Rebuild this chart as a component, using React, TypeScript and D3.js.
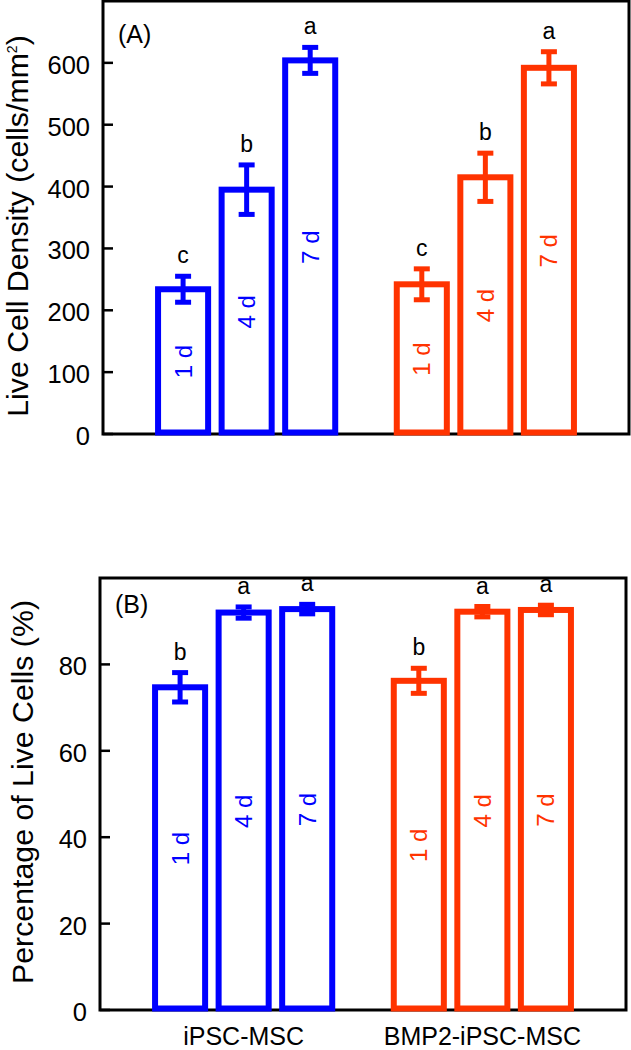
import React from "react";
import * as d3 from "d3";

const groups = ["iPSC-MSC", "BMP2-iPSC-MSC"];
const days = ["1 d", "4 d", "7 d"];
const groupColors = ["#0000ff", "#ff3300"];

const densityIPSC = [234, 395, 604];
const densityIPSCErr = [21, 40, 21];
const densityBMP2 = [242, 415, 592];
const densityBMP2Err = [25, 39, 26];
const densityLetters = ["c", "b", "a"];
const densityTicks = [0, 100, 200, 300, 400, 500, 600];

const liveIPSC = [74.7, 92.0, 92.8];
const liveIPSCErr = [3.4, 1.3, 1.1];
const liveBMP2 = [76.2, 92.2, 92.6];
const liveBMP2Err = [2.9, 1.2, 1.1];
const liveLetters = ["b", "a", "a"];
const liveTicks = [0, 20, 40, 60, 80];

const FONT = "Arial, 'Liberation Sans', Helvetica, sans-serif";

type PanelProps = {
  left: number;
  right: number;
  top: number;
  bottom: number;
  yMax: number;
  ticks: number[];
  values: number[][];
  errors: number[][];
  letters: string[];
  title: React.ReactNode;
  titleX: number;
  titleY: number;
  tag: string;
  tagY: number;
  showGroupLabels: boolean;
  groupLabelY?: number;
};

function Panel(p: PanelProps) {
  const y = d3.scaleLinear().domain([0, p.yMax]).range([p.bottom, p.top]);
  const x0 = d3
    .scaleBand<string>()
    .domain(groups)
    .range([p.left, p.right])
    .paddingInner(0.2013)
    .paddingOuter(0.2024);
  const x1 = d3
    .scaleBand<string>()
    .domain(days)
    .range([0, x0.bandwidth()])
    .paddingInner(0.118)
    .paddingOuter(0.059);
  const sw = 6;
  const capW = 16;
  const errW = 5;

  return (
    <g>
      <rect
        x={p.left}
        y={p.top}
        width={p.right - p.left}
        height={p.bottom - p.top}
        fill="none"
        stroke="#000"
        strokeWidth={3}
      />
      {p.ticks.map((t) => (
        <g key={t}>
          <line
            x1={p.left}
            x2={p.left + 10}
            y1={y(t)}
            y2={y(t)}
            stroke="#000"
            strokeWidth={2.5}
          />
          <text
            x={p.left - 13}
            y={y(t) + 11}
            textAnchor="end"
            fontSize={25.5}
            fontFamily={FONT}
            fill="#000"
          >
            {t}
          </text>
        </g>
      ))}
      {groups.map((g, gi) =>
        days.map((d, di) => {
          const v = p.values[gi][di];
          const e = p.errors[gi][di];
          const bx = (x0(g) as number) + (x1(d) as number);
          const bw = x1.bandwidth();
          const cx = bx + bw / 2;
          const color = groupColors[gi];
          const yTop = y(v);
          const yBot = y(0) + 1.5 - sw / 2;
          return (
            <g key={g + d}>
              <rect
                x={bx + sw / 2}
                y={yTop}
                width={bw - sw}
                height={yBot - yTop}
                fill="none"
                stroke={color}
                strokeWidth={sw}
              />
              <line x1={cx} x2={cx} y1={y(v - e)} y2={y(v + e)} stroke={color} strokeWidth={errW} />
              <line x1={cx - capW / 2} x2={cx + capW / 2} y1={y(v - e)} y2={y(v - e)} stroke={color} strokeWidth={errW} />
              <line x1={cx - capW / 2} x2={cx + capW / 2} y1={y(v + e)} y2={y(v + e)} stroke={color} strokeWidth={errW} />
              <text
                x={cx}
                y={y(v + e) - 13}
                textAnchor="middle"
                fontSize={23}
                fontFamily={FONT}
                fill="#000"
              >
                {p.letters[di]}
              </text>
              <text
                transform={`translate(${cx},${(yTop + y(0)) / 2}) rotate(-90)`}
                textAnchor="middle"
                dominantBaseline="central"
                fontSize={24}
                fontFamily={FONT}
                fill={color}
              >
                {d}
              </text>
            </g>
          );
        })
      )}
      <text x={p.left + 15} y={p.tagY} fontSize={25} fontFamily={FONT} fill="#000">
        {p.tag}
      </text>
      <text
        transform={`translate(${p.titleX},${p.titleY}) rotate(-90)`}
        textAnchor="middle"
        fontSize={30.3}
        fontFamily={FONT}
        fill="#000"
      >
        {p.title}
      </text>
      {p.showGroupLabels &&
        groups.map((g) => (
          <text
            key={g}
            x={(x0(g) as number) + x0.bandwidth() / 2}
            y={p.groupLabelY}
            textAnchor="middle"
            fontSize={25}
            fontFamily={FONT}
            fill="#000"
          >
            {g}
          </text>
        ))}
    </g>
  );
}

export default function App() {
  return (
    <svg
      width={631}
      height={1050}
      style={{ position: "absolute", left: 0, top: 0, background: "#fff" }}
    >
      <rect x={0} y={0} width={631} height={1050} fill="#fff" />
      <Panel
        left={103}
        right={629}
        top={1}
        bottom={434}
        yMax={700}
        ticks={densityTicks}
        values={[densityIPSC, densityBMP2]}
        errors={[densityIPSCErr, densityBMP2Err]}
        letters={densityLetters}
        title={
          <>
            Live Cell Density (cells/mm
            <tspan fontSize={14} dy={-11}>2</tspan>
            <tspan dy={11}>)</tspan>
          </>
        }
        titleX={27.5}
        titleY={226}
        tag="(A)"
        tagY={43}
        showGroupLabels={false}
      />
      <Panel
        left={100}
        right={626}
        top={578}
        bottom={1010}
        yMax={100}
        ticks={liveTicks}
        values={[liveIPSC, liveBMP2]}
        errors={[liveIPSCErr, liveBMP2Err]}
        letters={liveLetters}
        title="Percentage of Live Cells (%)"
        titleX={33}
        titleY={792}
        tag="(B)"
        tagY={613}
        showGroupLabels={true}
        groupLabelY={1044.5}
      />
    </svg>
  );
}
